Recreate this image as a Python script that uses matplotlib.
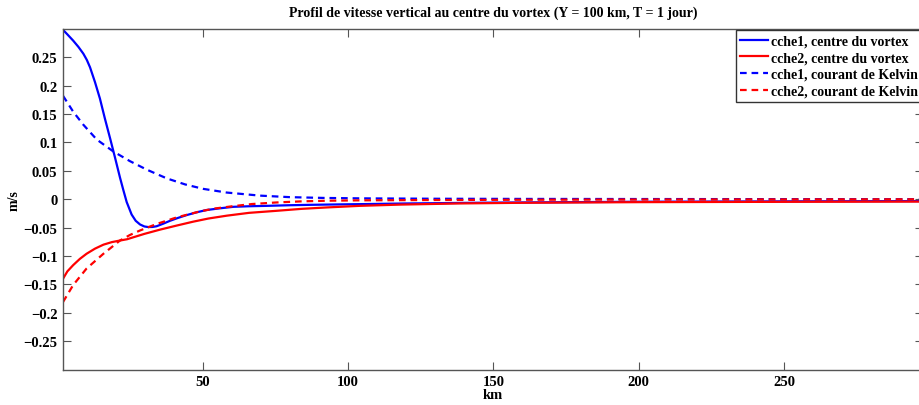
import numpy as np
import matplotlib
matplotlib.use('Agg')
import matplotlib.pyplot as plt

# values (km, m/s)
x_c1 = [2, 3.5, 5.5, 7.3, 9, 10.2, 11.3, 13, 14.7, 16.4, 18.2, 19.9, 21.6,
        22.7, 23.9, 25.6, 27, 28.5, 30, 31.3, 32.8, 34.2, 36.5, 38.8, 41.5,
        44.5, 48, 51.4, 56, 60.6, 66, 72, 80, 87, 95, 104, 120, 150, 200, 250, 298]
y_c1 = [0.298, 0.29, 0.279, 0.268, 0.256, 0.245, 0.232, 0.206, 0.177, 0.142,
        0.107, 0.073, 0.038, 0.017, -0.005, -0.027, -0.038, -0.0445, -0.048,
        -0.049, -0.0488, -0.0476, -0.043, -0.038, -0.033, -0.028, -0.023,
        -0.019, -0.016, -0.0134, -0.0124, -0.0117, -0.0106, -0.0099, -0.0093,
        -0.0087, -0.0075, -0.006, -0.0045, -0.0038, -0.0033]

x_c2 = [2, 3.5, 5.5, 7.8, 10.1, 13, 15.9, 18.8, 21.6, 24, 26.2, 30, 35.4, 41,
        46.8, 52, 58.3, 66, 75.5, 84, 92.7, 104, 118, 138, 160, 200, 250, 298]
y_c2 = [-0.14, -0.127, -0.116, -0.105, -0.096, -0.087, -0.080, -0.0755,
        -0.0727, -0.0705, -0.067, -0.061, -0.0535, -0.0465, -0.0395, -0.034,
        -0.029, -0.024, -0.0204, -0.017, -0.0145, -0.0117, -0.0095, -0.0075,
        -0.0063, -0.0052, -0.0046, -0.0042]

x_k1 = [2, 5.5, 9, 13.6, 19.3, 25, 30.8, 37.7, 44, 50.2, 58.3, 69.7, 80,
        92, 104, 130, 160, 200, 250, 298]
y_k1 = [0.182, 0.154, 0.131, 0.105, 0.084, 0.067, 0.052, 0.0366, 0.026,
        0.0182, 0.0117, 0.0063, 0.0036, 0.0022, 0.0015, 0.0008, 0.0005, 0.0003,
        0.0001, 0.0]

x_k2 = [2, 5.5, 10.1, 15.9, 21.6, 25, 28.5, 34.2, 41.1, 49.1, 54, 60.6, 67,
        75.5, 84, 92.7, 104, 130, 160, 200, 250, 298]
y_k2 = [-0.181, -0.151, -0.122, -0.096, -0.0727, -0.063, -0.055, -0.0436,
        -0.032, -0.0215, -0.0165, -0.0122, -0.0085, -0.0057, -0.0038, -0.0027,
        -0.002, -0.0014, -0.001, -0.0006, -0.0004, -0.0002]

xticks = [50, 100, 150, 200, 250]
yticks = [-0.25, -0.2, -0.15, -0.1, -0.05, 0, 0.05, 0.1, 0.15, 0.2, 0.25]
ylabels = ['\u22120.25', '\u22120.2', '\u22120.15', '\u22120.1', '\u22120.05', '0',
           '0.05', '0.1', '0.15', '0.2', '0.25']

labels = ['cche1, centre du vortex', 'cche2, centre du vortex',
          'cche1, courant de Kelvin', 'cche2, courant de Kelvin']

plt.rcParams['font.family'] = ['Liberation Serif', 'DejaVu Serif']
plt.rcParams['font.weight'] = 'bold'
plt.rcParams['font.size'] = 10

W, H = 919, 406
fig = plt.figure(figsize=(W / 100, H / 100), dpi=100)
left, right, top, bottom = 63, 922.6, 29.7, 370.7
ax = fig.add_axes([left / W, 1 - bottom / H, (right - left) / W, (bottom - top) / H])

ax.plot(x_c1, y_c1, color='#0000ff', lw=1.6, label=labels[0])
ax.plot(x_c2, y_c2, color='#ff0000', lw=1.6, label=labels[1])
ax.plot(x_k1, y_k1, color='#0000ff', lw=1.6, dashes=(3, 2.2), label=labels[2])
ax.plot(x_k2, y_k2, color='#ff0000', lw=1.6, dashes=(3, 2.2), label=labels[3])

ax.set_xlim(2, 297.6)
ax.set_ylim(-0.3, 0.3)
ax.set_xticks(xticks)
ax.set_xticklabels([str(t) for t in xticks])
ax.set_yticks(yticks)
ax.set_yticklabels(ylabels)
ax.tick_params(direction='in', length=6, width=0.8, color='#555555',
               top=True, right=True, labelsize=10.5, pad=4)
for s in ax.spines.values():
    s.set_color('#555555')
    s.set_linewidth(1.0)

ax.set_title('Profil de vitesse vertical au centre du vortex (Y = 100 km, T = 1 jour)',
             fontsize=10, fontweight='bold', pad=9)
ax.set_xlabel('km', fontsize=10.5, fontweight='bold', labelpad=0)
ax.set_ylabel('m/s', fontsize=10, fontweight='bold', labelpad=2)

leg = ax.legend(loc='upper left', bbox_to_anchor=((736 - left) / (right - left), 1 - 1.6 / (bottom - top)),
                borderaxespad=0, fancybox=False, framealpha=1, edgecolor='#333333',
                fontsize=10, handlelength=2.0, handletextpad=0.2, labelspacing=0.27,
                borderpad=0.3)
leg.get_frame().set_linewidth(1.0)

fig.savefig('out.png', dpi=100)
